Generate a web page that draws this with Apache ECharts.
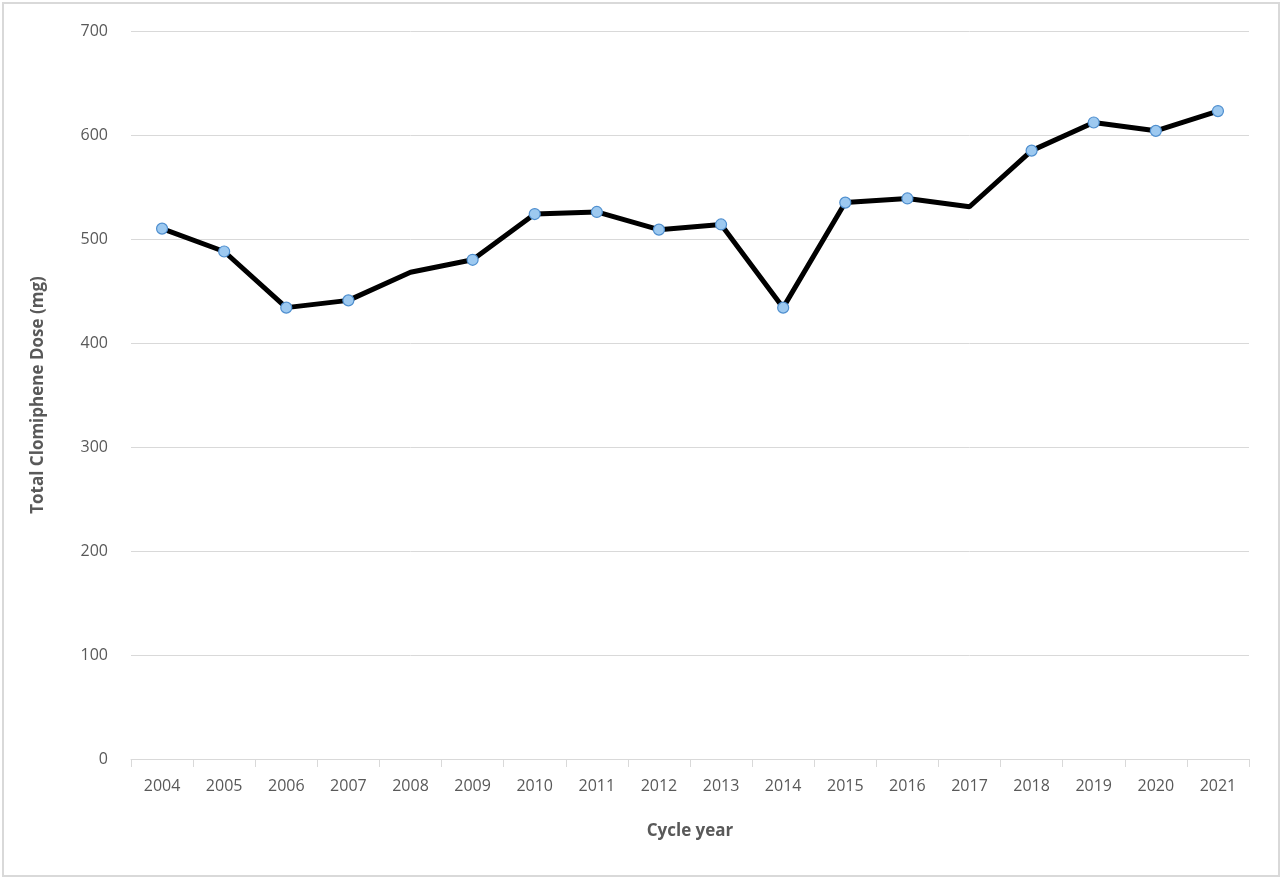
<!DOCTYPE html>
<html>
<head>
<meta charset="utf-8">
<script src="https://cdn.jsdelivr.net/npm/echarts@6/dist/echarts.min.js"></script>
<style>
  html, body { margin: 0; padding: 0; background: #fff; }
  #frame {
    position: absolute; left: 2px; top: 2px; width: 1274px; height: 871px;
    border: 2px solid #d9d9d9;
  }
  #chart { position: absolute; left: 0; top: 0; width: 1280px; height: 877px; }
</style>
</head>
<body>
<div id="frame"></div>
<div id="chart"></div>
<script>
// cycle years on the x axis
var years = ['2004', '2005', '2006', '2007', '2008', '2009', '2010', '2011', '2012',
             '2013', '2014', '2015', '2016', '2017', '2018', '2019', '2020', '2021'];

// total clomiphene dose per cycle year (mg)
var totalDose = [510, 488, 434, 441, 468, 480, 524, 526, 509,
                 514, 434, 535, 539, 531, 585, 612, 604, 623];

// years drawn without a marker in the original
var noMarkerYears = ['2008', '2017'];

var yTicks = { min: 0, max: 700, interval: 100 };

var textGray = '#595959';
var fontFamily = '"Open Sans", "Liberation Sans", sans-serif';

var chart = echarts.init(document.getElementById('chart'));

var seriesData = totalDose.map(function (v, i) {
    var item = { value: v };
    if (noMarkerYears.indexOf(years[i]) >= 0) {
        item.symbol = 'none';
    }
    return item;
});

chart.setOption({
    animation: false,
    backgroundColor: 'transparent',
    textStyle: { fontFamily: fontFamily },
    grid: { left: 131, right: 31, top: 31, bottom: 118 },
    xAxis: {
        type: 'category',
        data: years,
        boundaryGap: true,
        name: 'Cycle year',
        nameLocation: 'middle',
        nameGap: 64,
        nameTextStyle: { color: textGray, fontSize: 17, fontWeight: 'bold', fontFamily: fontFamily },
        axisLine: { lineStyle: { color: '#d9d9d9', width: 1 } },
        axisTick: { show: true, alignWithLabel: false, length: 8, lineStyle: { color: '#d9d9d9' } },
        axisLabel: { color: textGray, fontSize: 16, margin: 19, interval: 0 },
        splitLine: { show: false }
    },
    yAxis: {
        type: 'value',
        min: yTicks.min,
        max: yTicks.max,
        interval: yTicks.interval,
        name: 'Total Clomiphene Dose (mg)',
        nameLocation: 'middle',
        nameGap: 84,
        nameRotate: 90,
        nameTextStyle: { color: textGray, fontSize: 17, fontWeight: 'bold', fontFamily: fontFamily },
        axisLine: { show: false },
        axisTick: { show: false },
        axisLabel: { color: textGray, fontSize: 16, margin: 23 },
        splitLine: { lineStyle: { color: '#d9d9d9', width: 1 } }
    },
    series: [{
        type: 'line',
        data: seriesData,
        symbol: 'circle',
        symbolSize: 11,
        showAllSymbol: true,
        lineStyle: { color: '#000', width: 5 },
        itemStyle: { color: '#9dc9f0', borderColor: '#4f8fcf', borderWidth: 1.2 },
        z: 3
    }]
});
</script>
</body>
</html>
